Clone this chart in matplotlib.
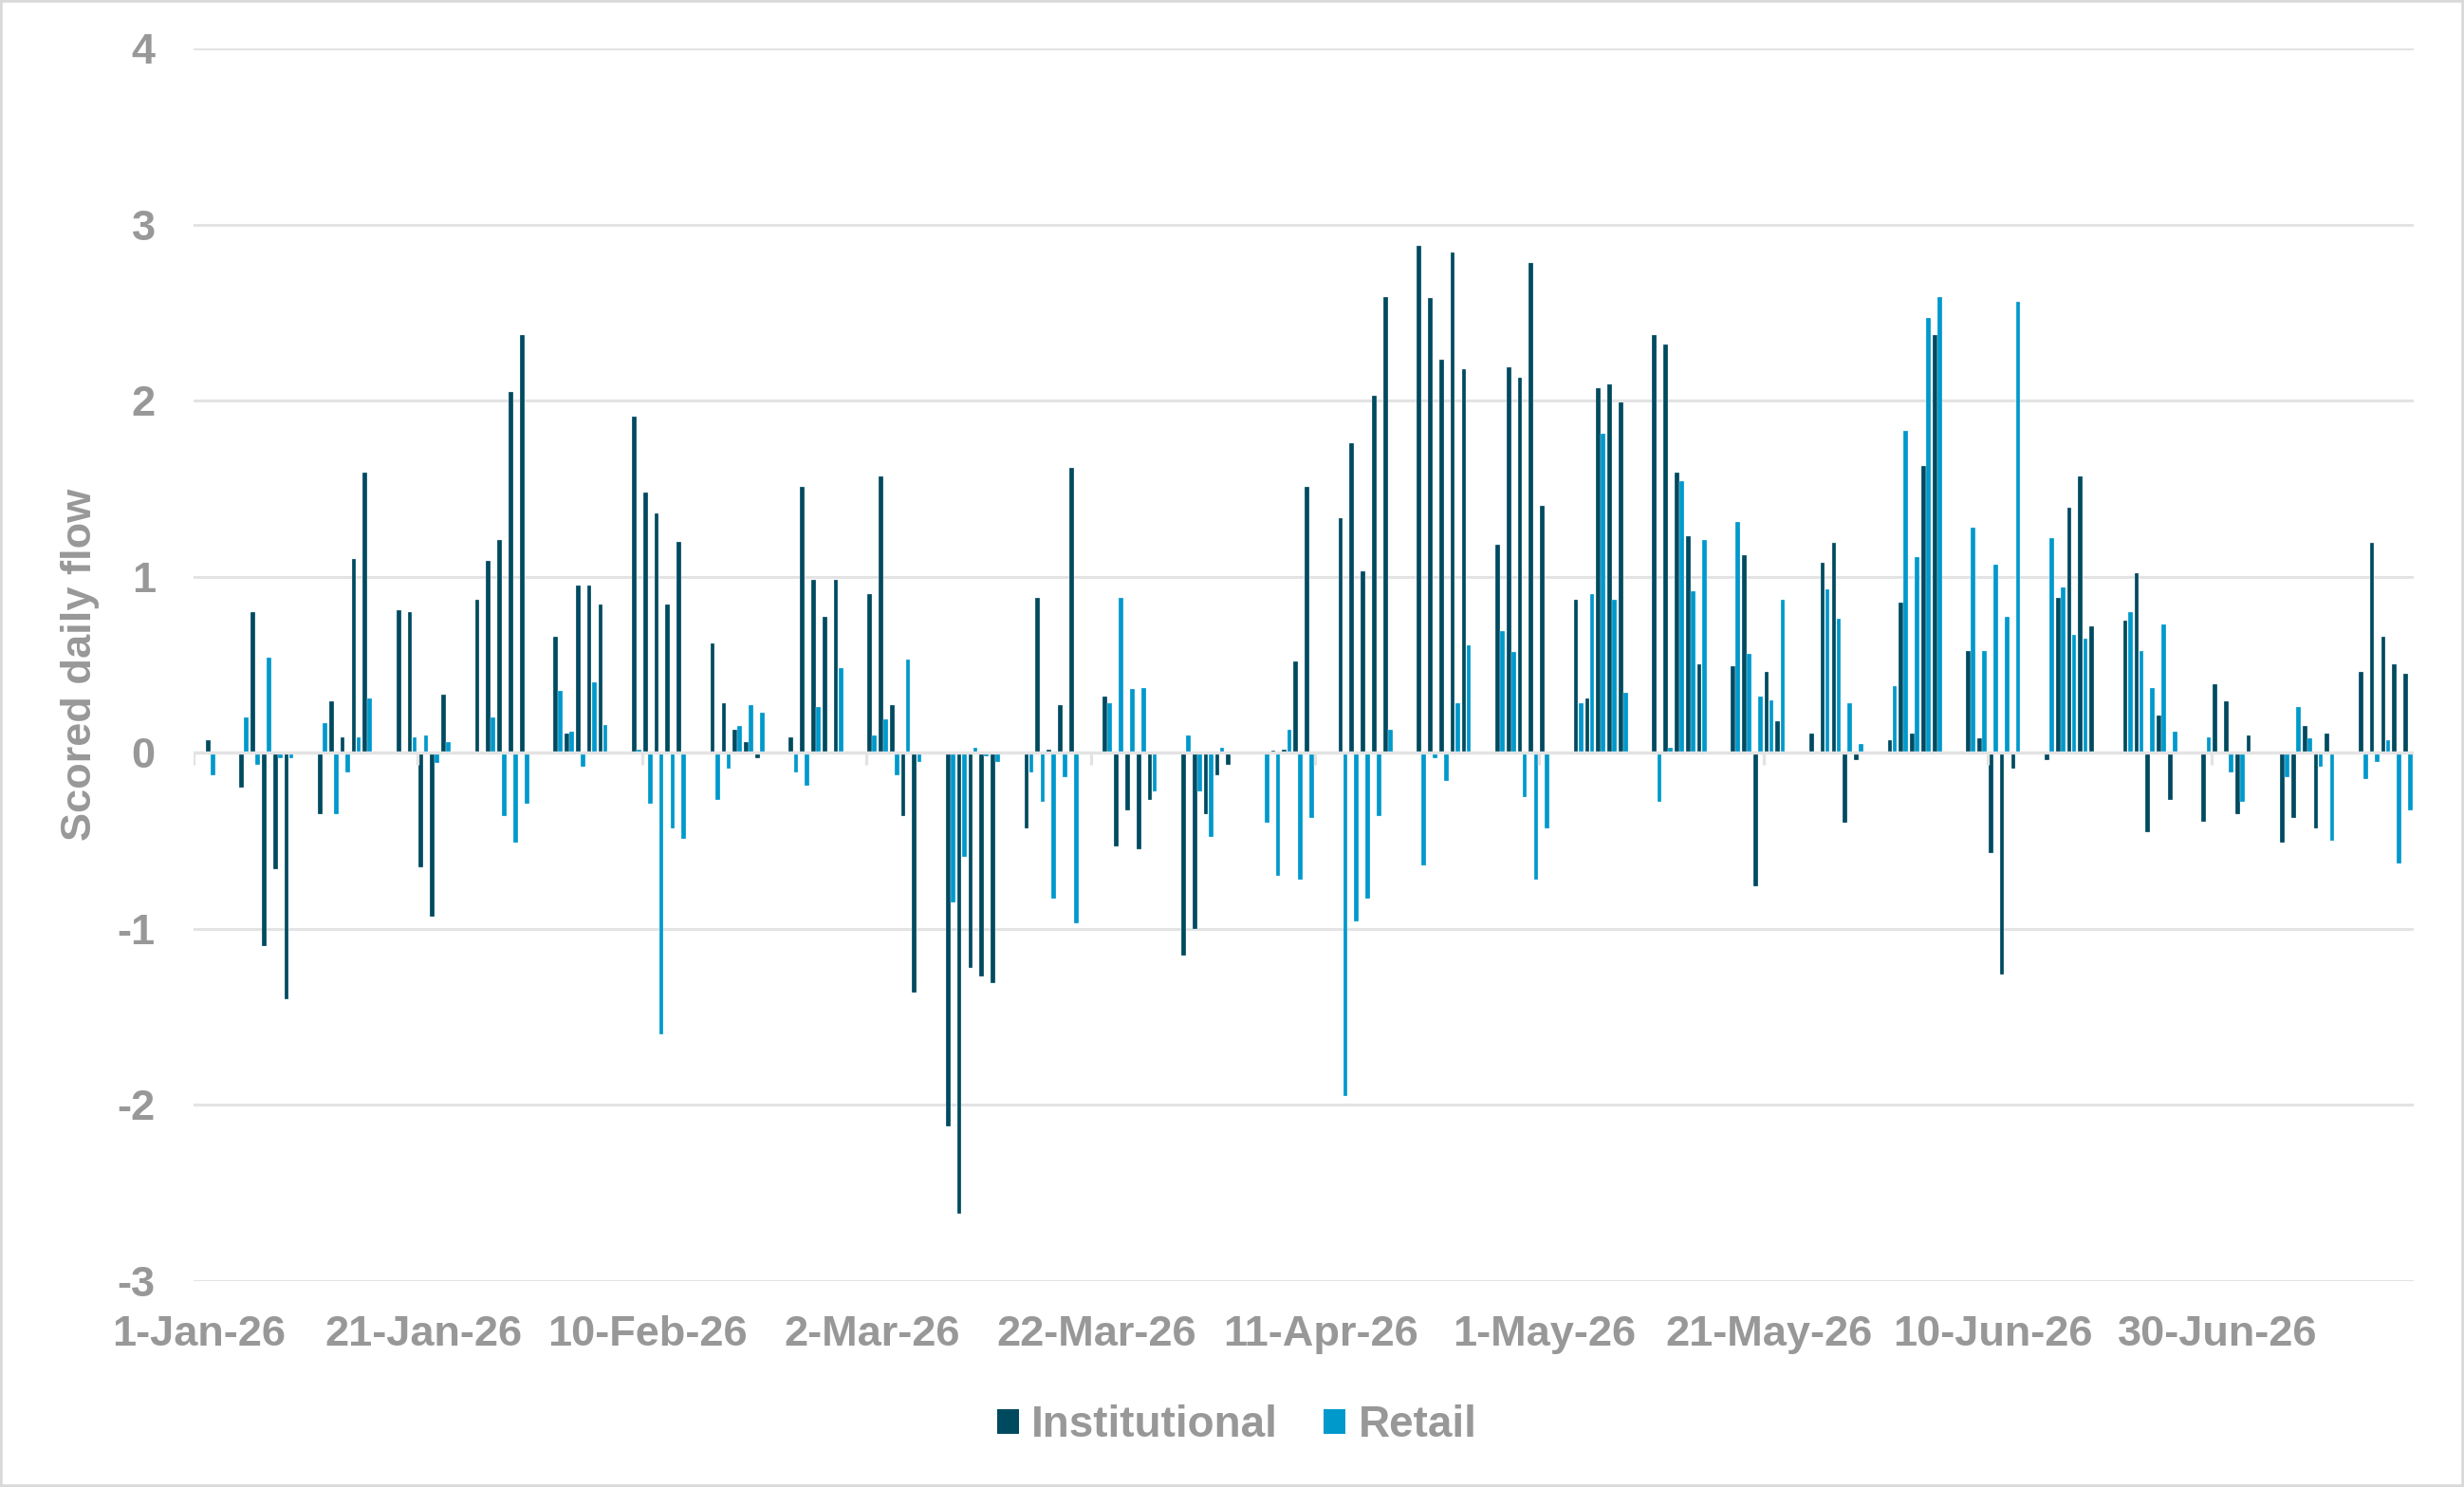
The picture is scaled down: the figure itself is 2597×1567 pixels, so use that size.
#----------------------------------------------------------------------------------------------------
# Imports
#----------------------------------------------------------------------------------------------------
import pandas as pd
import matplotlib
matplotlib.use("Agg")
import matplotlib.pyplot as plt
import matplotlib.dates as mdates
from matplotlib.patches import Rectangle, Patch

#----------------------------------------------------------------------------------------------------
# Data (one row per week)
#----------------------------------------------------------------------------------------------------
dates = pd.bdate_range("2026-01-02", "2026-07-17")

institutional = [
    0.07,
    -0.20, 0.80, -1.10, -0.66, -1.40,
    -0.35, 0.29, 0.09, 1.10, 1.59,
    0.81, 0.80, -0.65, -0.93, 0.33,
    0.87, 1.09, 1.21, 2.05, 2.37,
    0.66, 0.11, 0.95, 0.95, 0.84,
    1.91, 1.48, 1.36, 0.84, 1.20,
    0.62, 0.28, 0.13, 0.06, -0.03,
    0.09, 1.51, 0.98, 0.77, 0.98,
    0.90, 1.57, 0.27, -0.36, -1.36,
    -2.12, -2.62, -1.22, -1.27, -1.31,
    -0.43, 0.88, 0.02, 0.27, 1.62,
    0.32, -0.53, -0.33, -0.55, -0.27,
    -1.15, -1.00, -0.35, -0.13, -0.07,
    0.00, 0.01, 0.02, 0.52, 1.51,
    1.33, 1.76, 1.03, 2.03, 2.59,
    2.88, 2.58, 2.23, 2.84, 2.18,
    1.18, 2.19, 2.13, 2.78, 1.40,
    0.87, 0.31, 2.07, 2.09, 1.99,
    2.37, 2.32, 1.59, 1.23, 0.50,
    0.49, 1.12, -0.76, 0.46, 0.18,
    0.11, 1.08, 1.19, -0.40, -0.04,
    0.07, 0.85, 0.11, 1.63, 2.37,
    0.58, 0.08, -0.57, -1.26, -0.09,
    -0.04, 0.88, 1.39, 1.57, 0.72,
    0.75, 1.02, -0.45, 0.21, -0.27,
    -0.39, 0.39, 0.29, -0.35, 0.10,
    -0.51, -0.37, 0.15, -0.43, 0.11,
    0.46, 1.19, 0.66, 0.50, 0.45,
]

retail = [
    -0.13,
    0.20, -0.07, 0.54, -0.03, -0.03,
    0.17, -0.35, -0.11, 0.09, 0.31,
    0.00, 0.09, 0.10, -0.06, 0.06,
    0.00, 0.20, -0.36, -0.51, -0.29,
    0.35, 0.12, -0.08, 0.40, 0.16,
    0.02, -0.29, -1.60, -0.43, -0.49,
    -0.27, -0.09, 0.15, 0.27, 0.23,
    -0.11, -0.19, 0.26, -0.01, 0.48,
    0.10, 0.19, -0.13, 0.53, -0.05,
    -0.85, -0.59, 0.03, -0.02, -0.05,
    -0.11, -0.28, -0.83, -0.14, -0.97,
    0.28, 0.88, 0.36, 0.37, -0.22,
    0.10, -0.22, -0.48, 0.03, 0.00,
    -0.40, -0.70, 0.13, -0.72, -0.37,
    -1.95, -0.96, -0.83, -0.36, 0.13,
    -0.64, -0.03, -0.16, 0.28, 0.61,
    0.69, 0.57, -0.25, -0.72, -0.43,
    0.28, 0.90, 1.81, 0.87, 0.34,
    -0.28, 0.03, 1.54, 0.92, 1.21,
    1.31, 0.56, 0.32, 0.30, 0.87,
    0.00, 0.93, 0.76, 0.28, 0.05,
    0.38, 1.83, 1.11, 2.47, 2.59,
    1.28, 0.58, 1.07, 0.77, 2.56,
    1.22, 0.94, 0.67, 0.65, 0.00,
    0.80, 0.58, 0.37, 0.73, 0.12,
    0.09, -0.01, -0.11, -0.28, 0.00,
    -0.14, 0.26, 0.08, -0.08, -0.50,
    -0.15, -0.05, 0.07, -0.63, -0.33,
]

tick_dates = pd.date_range("2026-01-01", "2026-07-17", freq="20D")
tick_labels = [f"{d.day}-{d.strftime('%b-%y')}" for d in tick_dates]

assert len(dates) == len(institutional) == len(retail)

#----------------------------------------------------------------------------------------------------
# Style
#----------------------------------------------------------------------------------------------------
INST_COLOR = "#004a60"
RETAIL_COLOR = "#0099cc"
TEXT_COLOR = "#989898"
GRID_COLOR = "#e3e3e3"
FONT_SIZE = 32.5

plt.rcParams["font.family"] = ["Liberation Sans", "DejaVu Sans"]
plt.rcParams["font.weight"] = "bold"

fig = plt.figure(figsize=(25.97, 15.67), dpi=100)
ax = fig.add_axes([0.0786, 0.1385, 0.9010, 0.8290])

#----------------------------------------------------------------------------------------------------
# Bars
#----------------------------------------------------------------------------------------------------
x = mdates.date2num(dates) + 0.5
ax.bar(x - 0.215, institutional, width=0.40, color=INST_COLOR,
       edgecolor="white", linewidth=0.2, zorder=2)
ax.bar(x + 0.215, retail, width=0.40, color=RETAIL_COLOR,
       edgecolor="white", linewidth=0.2, zorder=2)

#----------------------------------------------------------------------------------------------------
# Axes
#----------------------------------------------------------------------------------------------------
x_start = mdates.date2num(pd.Timestamp("2026-01-01"))
x_end = mdates.date2num(pd.Timestamp("2026-07-18"))
ax.set_xlim(x_start, x_end)
ax.set_ylim(-3, 4)

ax.set_yticks(range(-3, 5))
ax.set_yticklabels([str(v) for v in range(-3, 5)])
ax.yaxis.grid(True, color=GRID_COLOR, linewidth=2.2, zorder=0)
ax.set_axisbelow(True)

ax.set_xticks(mdates.date2num(tick_dates) + 0.5)
ax.set_xticklabels(tick_labels)

ax.tick_params(axis="y", length=0, pad=29, labelsize=FONT_SIZE, labelcolor=TEXT_COLOR)
ax.tick_params(axis="x", length=0, pad=26, labelsize=FONT_SIZE, labelcolor=TEXT_COLOR)

for spine in ax.spines.values():
    spine.set_visible(False)

# zero axis line with small tick marks, drawn over the bars
ax.axhline(0, color=GRID_COLOR, linewidth=2.4, zorder=3)
ax.vlines(mdates.date2num(tick_dates), -0.07, 0, color=GRID_COLOR, linewidth=2.4, zorder=3)

fig.text(85 / 2597, 0.5533, "Scored daily flow", rotation=90, ha="center", va="center",
         fontsize=FONT_SIZE, color=TEXT_COLOR, fontweight="bold")

#----------------------------------------------------------------------------------------------------
# Legend and frame
#----------------------------------------------------------------------------------------------------
handles = [Patch(facecolor=INST_COLOR, label="Institutional"),
           Patch(facecolor=RETAIL_COLOR, label="Retail")]
fig.legend(handles=handles, loc="center", bbox_to_anchor=(0.502, 0.0415), ncol=2,
           frameon=False, fontsize=33, labelcolor=TEXT_COLOR,
           handlelength=0.5, handleheight=0.5, handletextpad=0.3, columnspacing=1.05)

fig.patches.append(Rectangle((0, 0), 1, 1, transform=fig.transFigure, fill=False,
                             edgecolor="#d9d9d9", linewidth=4))

fig.savefig("out.png", dpi=100)
